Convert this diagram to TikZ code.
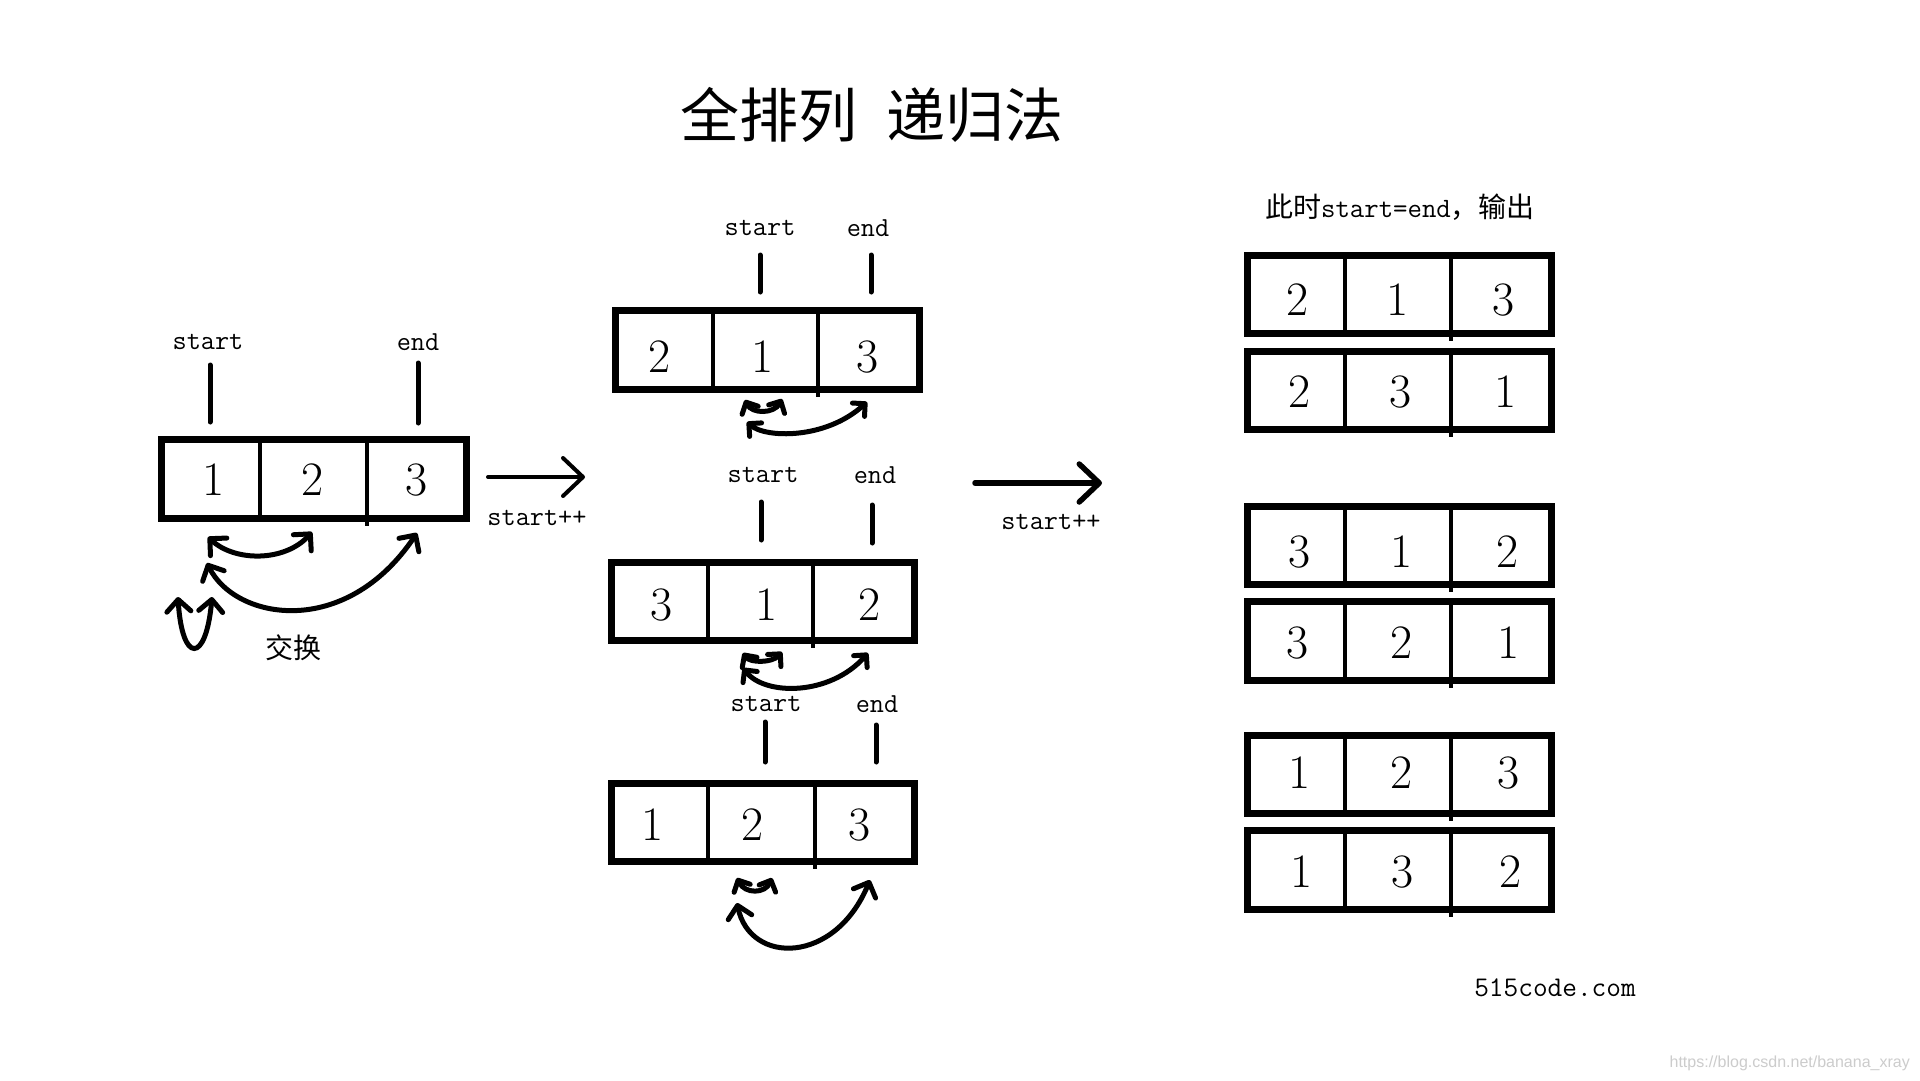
\documentclass[tikz,border=0pt]{standalone}
\usepackage{fontspec}
\usetikzlibrary{arrows.meta}
\newfontfamily\cjk{Noto Sans CJK SC}
\newfontfamily\wmfont{Liberation Sans}
\tikzset{
  digit/.style={font=\fontsize{48}{50}\selectfont, inner sep=0pt},
  ptrlabel/.style={font=\ttfamily\fontsize{27.5}{30}\selectfont, inner sep=0pt},
  ptr/.style={line width=5pt, line cap=round},
  frame/.style={line width=7pt},
  divider/.style={line width=4pt},
  swapbig/.style={line width=5pt, line cap=round,
    {Straight Barb[length=12pt,width=24pt,round]}-{Straight Barb[length=12pt,width=24pt,round]}},
  swapsmall/.style={line width=5pt, line cap=round,
    {Straight Barb[length=9pt,width=18pt,round]}-{Straight Barb[length=9pt,width=18pt,round]}},
  steparrow/.style={line cap=round, -{Straight Barb[length=20pt,width=38pt,round]}},
}
\newcommand\permbox[6]{%
  \draw[divider] (#5,#2) -- (#5,#4);
  \draw[divider] (#6,#2) -- (#6,#4+4);
  \draw[frame] (#1+3.5,#2+3.5) rectangle (#3-3.5,#4-3.5);
}
\begin{document}
\begin{tikzpicture}[x=1pt,y=-1pt]
\useasboundingbox[fill=white] (0,0) rectangle (1920,1080);

% title
\node[font=\cjk\fontsize{59}{62}\selectfont, inner sep=0pt] (title) at (872,115) {全排列\hspace{30pt}递归法};

% ---------- left array ----------
\permbox{158}{436}{470}{522}{260}{367}
\node[digit] (a1) at (214,480) {1};
\node[digit] (a2) at (313,480) {2};
\node[digit] (a3) at (417,480) {3};
\node[ptrlabel] (as) at (208,342) {start};
\node[ptrlabel] (ae) at (418,342) {end};
\coordinate (as1) at (210,365); \coordinate (as2) at (210,422);
\coordinate (ae1) at (418,363); \coordinate (ae2) at (418,423);
\draw[ptr] (as1) -- (as2);
\draw[ptr] (ae1) -- (ae2);
% swaps
\coordinate (sa1) at (208,537); \coordinate (sa2) at (312,532);
\draw[swapbig] (sa1) .. controls (235,562) and (285,562) .. (sa2);
\coordinate (sb1) at (207,563); \coordinate (sb2) at (417,533);
\draw[swapbig] (sb1) .. controls (235,620) and (345,640) .. (sb2);
\coordinate (sc1) at (178,597); \coordinate (sc2) at (212,597);
\draw[swapbig] (sc1) .. controls (182,664) and (206,664) .. (sc2);
\node[font=\cjk\fontsize{28}{30}\selectfont, inner sep=0pt] (swaplbl) at (293,648) {交换};

% step arrow 1
\coordinate (r1s) at (488,477); \coordinate (r1e) at (585,477);
\draw[steparrow, line width=4pt] (r1s) -- (r1e);
\node[ptrlabel] (r1l) at (537,518) {start++};

% ---------- middle top ----------
\permbox{612}{307}{923}{393}{713}{818}
\node[digit] (b1) at (660,357) {2};
\node[digit] (b2) at (763,357) {1};
\node[digit] (b3) at (868,357) {3};
\node[ptrlabel] (bs) at (760,228) {start};
\node[ptrlabel] (be) at (868,228) {end};
\coordinate (bs1) at (760,255); \coordinate (bs2) at (760,292);
\coordinate (be1) at (871,255); \coordinate (be2) at (871,292);
\draw[ptr] (bs1) -- (bs2);
\draw[ptr] (be1) -- (be2);
\coordinate (bx1) at (745,400); \coordinate (bx2) at (782,399);
\draw[swapsmall] (bx1) .. controls (752,414) and (774,414) .. (bx2);
\coordinate (by1) at (747,422); \coordinate (by2) at (867,402);
\draw[swapsmall] (by1) .. controls (765,438) and (825,440) .. (by2);

% ---------- middle middle ----------
\permbox{608}{559}{918}{644}{708}{813}
\node[digit] (c1) at (662,605) {3};
\node[digit] (c2) at (767,605) {1};
\node[digit] (c3) at (870,605) {2};
\node[ptrlabel] (cs) at (763,475) {start};
\node[ptrlabel] (ce) at (875,475) {end};
\coordinate (cs1) at (761,502); \coordinate (cs2) at (761,540);
\coordinate (ce1) at (872,505); \coordinate (ce2) at (872,543);
\draw[ptr] (cs1) -- (cs2);
\draw[ptr] (ce1) -- (ce2);
\coordinate (cx1) at (743,653); \coordinate (cx2) at (782,652);
\draw[swapsmall] (cx1) .. controls (750,663) and (772,663) .. (cx2);
\coordinate (cy1) at (743,668); \coordinate (cy2) at (868,653);
\draw[swapsmall] (cy1) .. controls (765,696) and (830,696) .. (cy2);

% ---------- middle bottom ----------
\permbox{608}{780}{918}{865}{708}{815}
\node[digit] (d1) at (653,825) {1};
\node[digit] (d2) at (753,825) {2};
\node[digit] (d3) at (860,825) {3};
\node[ptrlabel] (ds) at (766,704) {start};
\node[ptrlabel] (de) at (877,704) {end};
\coordinate (ds1) at (765,722); \coordinate (ds2) at (765,762);
\coordinate (de1) at (876,725); \coordinate (de2) at (876,762);
\draw[ptr] (ds1) -- (ds2);
\draw[ptr] (de1) -- (de2);
\coordinate (dx1) at (737,878); \coordinate (dx2) at (772,878);
\draw[swapsmall] (dx1) .. controls (745,894) and (765,894) .. (dx2);
\coordinate (dy1) at (737,903); \coordinate (dy2) at (870,880);
\draw[swapbig] (dy1) .. controls (750,965) and (835,965) .. (dy2);

% step arrow 2
\coordinate (r2s) at (975,483); \coordinate (r2e) at (1102,483);
\draw[steparrow, line width=5.5pt] (r2s) -- (r2e);
\node[ptrlabel] (r2l) at (1051,522) {start++};

% ---------- right column ----------
\node[inner sep=0pt] (outlbl) at (1400,207)
  {{\cjk\fontsize{28}{30}\selectfont 此时}{\ttfamily\fontsize{28}{30}\selectfont start=end}{\cjk\fontsize{28}{30}\selectfont ，输出}};

\permbox{1244}{252}{1555}{337}{1345}{1451}
\node[digit] (e11) at (1298,300) {2};
\node[digit] (e12) at (1398,300) {1};
\node[digit] (e13) at (1503,300) {3};

\permbox{1244}{348}{1555}{433}{1345}{1451}
\node[digit] (e21) at (1300,392) {2};
\node[digit] (e22) at (1400,392) {3};
\node[digit] (e23) at (1505,392) {1};

\permbox{1244}{503}{1555}{588}{1345}{1451}
\node[digit] (e31) at (1300,552) {3};
\node[digit] (e32) at (1402,552) {1};
\node[digit] (e33) at (1507,552) {2};

\permbox{1244}{598}{1555}{684}{1345}{1451}
\node[digit] (e41) at (1298,643) {3};
\node[digit] (e42) at (1402,643) {2};
\node[digit] (e43) at (1508,643) {1};

\permbox{1244}{732}{1555}{817}{1345}{1451}
\node[digit] (e51) at (1300,773) {1};
\node[digit] (e52) at (1402,773) {2};
\node[digit] (e53) at (1508,773) {3};

\permbox{1244}{827}{1555}{913}{1345}{1451}
\node[digit] (e61) at (1302,872) {1};
\node[digit] (e62) at (1403,872) {3};
\node[digit] (e63) at (1510,872) {2};

% footer texts
\node[font=\ttfamily\fontsize{28.5}{30}\selectfont, inner sep=0pt] (site) at (1555,988) {515code.com};
\node[font=\wmfont\fontsize{16}{18}\selectfont, text=black!20, inner sep=0pt, anchor=east] (wm) at (1910,1063) {https://blog.csdn.net/banana\_xray};
\end{tikzpicture}
\end{document}
